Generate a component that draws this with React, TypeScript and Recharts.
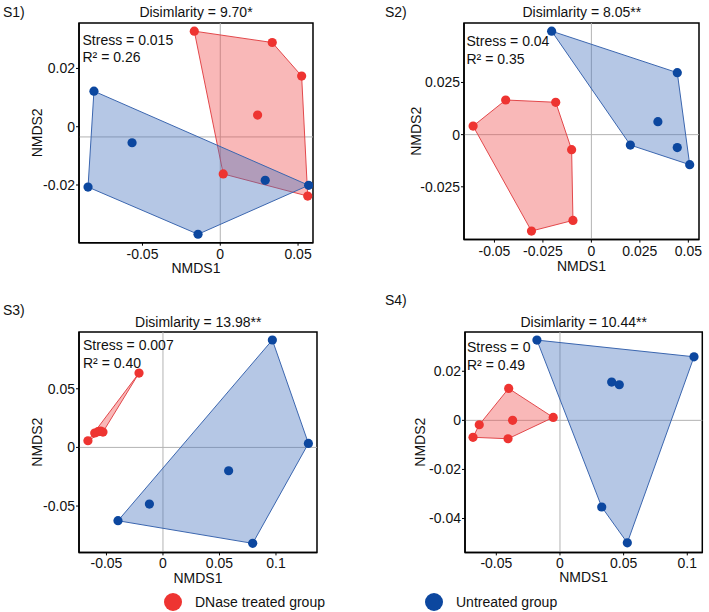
import { ScatterChart, Scatter, XAxis, YAxis, ReferenceLine, ReferenceArea, Polygon } from 'recharts';

type Pt = { x: number; y: number };

const RED = '#EE3431';
const BLUE = '#0C479F';
const RED_FILL = '#F04D4D';
const BLUE_FILL = '#4673BE';
const RED_EDGE = '#E2474A';
const BLUE_EDGE = '#3A65AF';
const FONT = '"Liberation Sans", Arial, sans-serif';

// S1 ordination scores
const s1Treated: Pt[] = [
    { x: -0.0167, y: 0.0328 },
    { x: 0.0334, y: 0.0289 },
    { x: 0.0523, y: 0.0174 },
    { x: 0.024, y: 0.004 },
    { x: 0.0019, y: -0.0162 },
    { x: 0.0562, y: -0.0238 },
];
const s1Untreated: Pt[] = [
    { x: -0.0812, y: 0.0122 },
    { x: -0.0567, y: -0.0055 },
    { x: -0.085, y: -0.0207 },
    { x: -0.0143, y: -0.0369 },
    { x: 0.0289, y: -0.0184 },
    { x: 0.0568, y: -0.0201 },
];

// S2 ordination scores
const s2Treated: Pt[] = [
    { x: -0.061, y: 0.0041 },
    { x: -0.0442, y: 0.0166 },
    { x: -0.0184, y: 0.0155 },
    { x: -0.0102, y: -0.0072 },
    { x: -0.0095, y: -0.0411 },
    { x: -0.0309, y: -0.0462 },
];
const s2Untreated: Pt[] = [
    { x: -0.0205, y: 0.0496 },
    { x: 0.0443, y: 0.0297 },
    { x: 0.0343, y: 0.0062 },
    { x: 0.0201, y: -0.005 },
    { x: 0.0443, y: -0.0062 },
    { x: 0.0507, y: -0.0144 },
];

// S3 ordination scores
const s3Treated: Pt[] = [
    { x: -0.0212, y: 0.0634 },
    { x: -0.0664, y: 0.0057 },
    { x: -0.0604, y: 0.0123 },
    { x: -0.0575, y: 0.0134 },
    { x: -0.0551, y: 0.014 },
    { x: -0.0531, y: 0.0131 },
];
const s3Untreated: Pt[] = [
    { x: 0.0968, y: 0.0916 },
    { x: 0.1287, y: 0.0034 },
    { x: 0.0794, y: -0.0818 },
    { x: -0.0398, y: -0.0625 },
    { x: -0.012, y: -0.0483 },
    { x: 0.0581, y: -0.0199 },
];

// S4 ordination scores
const s4Treated: Pt[] = [
    { x: -0.0403, y: 0.013 },
    { x: -0.0053, y: 0.0012 },
    { x: -0.0372, y: 0 },
    { x: -0.0634, y: -0.0018 },
    { x: -0.0683, y: -0.0069 },
    { x: -0.0408, y: -0.0075 },
];
const s4Untreated: Pt[] = [
    { x: -0.0181, y: 0.0327 },
    { x: 0.1053, y: 0.0259 },
    { x: 0.0406, y: 0.0156 },
    { x: 0.0466, y: 0.0145 },
    { x: 0.0328, y: -0.0353 },
    { x: 0.0529, y: -0.0499 },
];

const s1XTicks = [-0.05, 0, 0.05];
const s1YTicks = [-0.02, 0, 0.02];
const s2XTicks = [-0.05, -0.025, 0, 0.025, 0.05];
const s2YTicks = [-0.025, 0, 0.025];
const s3XTicks = [-0.05, 0, 0.05, 0.1];
const s3YTicks = [-0.05, 0, 0.05];
const s4XTicks = [-0.05, 0, 0.05, 0.1];
const s4YTicks = [-0.04, -0.02, 0, 0.02];

const titles = ['Disimlarity = 9.70*', 'Disimlarity = 8.05**', 'Disimlarity = 13.98**', 'Disimlarity = 10.44**'];
const stressLabels = ['Stress = 0.015', 'Stress = 0.04', 'Stress = 0.007', 'Stress = 0'];
const r2Labels = ['R² = 0.26', 'R² = 0.35', 'R² = 0.40', 'R² = 0.49'];
const legendNames = ['DNase treated group', 'Untreated group'];

// monotone chain convex hull
function convexHull(pts: Pt[]): Pt[] {
    const p = [...pts].sort((a, b) => a.x - b.x || a.y - b.y);
    const cross = (o: Pt, a: Pt, b: Pt) => (a.x - o.x) * (b.y - o.y) - (a.y - o.y) * (b.x - o.x);
    const lower: Pt[] = [];
    for (const q of p) {
        while (lower.length >= 2 && cross(lower[lower.length - 2], lower[lower.length - 1], q) <= 0) lower.pop();
        lower.push(q);
    }
    const upper: Pt[] = [];
    for (let i = p.length - 1; i >= 0; i--) {
        const q = p[i];
        while (upper.length >= 2 && cross(upper[upper.length - 2], upper[upper.length - 1], q) <= 0) upper.pop();
        upper.push(q);
    }
    return lower.slice(0, -1).concat(upper.slice(0, -1));
}

interface PanelProps {
    tag: string;
    tagPos: [number, number];
    title: string;
    titleY: number;
    stress: string;
    r2: string;
    textPos: [number, number, number];
    treated: Pt[];
    untreated: Pt[];
    xDomain: [number, number];
    yDomain: [number, number];
    xTicks: number[];
    yTicks: number[];
    hLine: number;
    // plot box: left, top, right, bottom
    box: [number, number, number, number];
    xLabelOffset: number;
    yLabelOffset: number;
}

const textStyle = (left: number, top: number, center = false): React.CSSProperties => ({
    position: 'absolute',
    left,
    top,
    transform: center ? 'translate(-50%, -50%)' : 'translate(0, -50%)',
    fontSize: 14,
    lineHeight: 1,
    whiteSpace: 'nowrap',
    color: '#111',
});

function Panel(p: PanelProps) {
    const [bl, bt, br, bb] = p.box;
    const hullLine = (fill: string, stroke: string) => (lp: any) => (
        <Polygon points={lp.points} fill={fill} fillOpacity={0.4} stroke={stroke} strokeWidth={1} />
    );
    const dot = (color: string) => (sp: any) => <circle cx={sp.cx} cy={sp.cy} r={4.6} fill={color} />;
    const tick = { fill: '#111', fontSize: 14 };

    return (
        <>
            <div style={textStyle(p.tagPos[0], p.tagPos[1])}>{p.tag}</div>
            <div style={textStyle((bl + br) / 2, p.titleY, true)}>{p.title}</div>
            <div style={{ position: 'absolute', left: bl - 60, top: bt - 5 }}>
                <ScatterChart
                    width={br - bl + 65}
                    height={bb - bt + 45}
                    margin={{ top: 5, right: 5, bottom: 0, left: 0 }}
                >
                    <XAxis
                        type="number"
                        dataKey="x"
                        domain={p.xDomain}
                        ticks={p.xTicks}
                        interval={0}
                        allowDataOverflow
                        height={40}
                        tickSize={3}
                        tickMargin={3}
                        tick={tick}
                        axisLine={{ stroke: '#000', strokeWidth: 1.5 }}
                        tickLine={{ stroke: '#000' }}
                        label={{ value: 'NMDS1', position: 'insideTop', offset: p.xLabelOffset, fill: '#111', fontSize: 14 }}
                    />
                    <YAxis
                        type="number"
                        dataKey="y"
                        domain={p.yDomain}
                        ticks={p.yTicks}
                        interval={0}
                        allowDataOverflow
                        width={60}
                        tickSize={3}
                        tickMargin={1}
                        tick={tick}
                        axisLine={{ stroke: '#000', strokeWidth: 1.5 }}
                        tickLine={{ stroke: '#000' }}
                        label={{
                            value: 'NMDS2',
                            angle: -90,
                            position: 'insideLeft',
                            offset: p.yLabelOffset,
                            fill: '#111',
                            fontSize: 14,
                            style: { textAnchor: 'middle' },
                        }}
                    />
                    <ReferenceLine x={0} stroke="#b3b3b3" strokeWidth={1} />
                    <ReferenceLine y={p.hLine} stroke="#b3b3b3" strokeWidth={1} />
                    <Scatter
                        data={convexHull(p.treated)}
                        line={hullLine(RED_FILL, RED_EDGE)}
                        shape={() => <g />}
                        isAnimationActive={false}
                    />
                    <Scatter
                        data={convexHull(p.untreated)}
                        line={hullLine(BLUE_FILL, BLUE_EDGE)}
                        shape={() => <g />}
                        isAnimationActive={false}
                    />
                    <Scatter data={p.treated} shape={dot(RED)} isAnimationActive={false} />
                    <Scatter data={p.untreated} shape={dot(BLUE)} isAnimationActive={false} />
                    <ReferenceArea
                        x1={p.xDomain[0]}
                        x2={p.xDomain[1]}
                        y1={p.yDomain[0]}
                        y2={p.yDomain[1]}
                        fill="none"
                        stroke="#000"
                        strokeWidth={1.5}
                        ifOverflow="visible"
                    />
                </ScatterChart>
            </div>
            <div style={textStyle(p.textPos[0], p.textPos[1])}>{p.stress}</div>
            <div style={textStyle(p.textPos[0], p.textPos[2])}>{p.r2}</div>
        </>
    );
}

export default function App() {
    return (
        <div
            style={{
                position: 'absolute',
                left: 0,
                top: 0,
                width: 709,
                height: 612,
                background: '#fff',
                fontFamily: FONT,
                overflow: 'hidden',
            }}
        >
            <Panel
                tag="S1)"
                tagPos={[3, 12]}
                title={titles[0]}
                titleY={12}
                stress={stressLabels[0]}
                r2={r2Labels[0]}
                textPos={[82.5, 39.5, 57]}
                treated={s1Treated}
                untreated={s1Untreated}
                xDomain={[-0.0908, 0.0596]}
                yDomain={[-0.0398, 0.0356]}
                xTicks={s1XTicks}
                yTicks={s1YTicks}
                hLine={-0.0035}
                box={[79, 23, 313, 242.7]}
                xLabelOffset={20.5}
                yLabelOffset={18.5}
            />
            <Panel
                tag="S2)"
                tagPos={[385, 12]}
                title={titles[1]}
                titleY={12}
                stress={stressLabels[1]}
                r2={r2Labels[1]}
                textPos={[466.5, 41, 58.5]}
                treated={s2Treated}
                untreated={s2Untreated}
                xDomain={[-0.0657, 0.0555]}
                yDomain={[-0.0503, 0.0535]}
                xTicks={s2XTicks}
                yTicks={s2YTicks}
                hLine={0}
                box={[464.3, 22.7, 699.3, 239.3]}
                xLabelOffset={21.5}
                yLabelOffset={12}
            />
            <Panel
                tag="S3)"
                tagPos={[3, 310]}
                title={titles[2]}
                titleY={322}
                stress={stressLabels[2]}
                r2={r2Labels[2]}
                textPos={[83, 345, 362.5]}
                treated={s3Treated}
                untreated={s3Untreated}
                xDomain={[-0.0743, 0.1363]}
                yDomain={[-0.0895, 0.0984]}
                xTicks={s3XTicks}
                yTicks={s3YTicks}
                hLine={0}
                box={[79.3, 332.3, 317.3, 552.7]}
                xLabelOffset={20.5}
                yLabelOffset={18}
            />
            <Panel
                tag="S4)"
                tagPos={[385, 300]}
                title={titles[3]}
                titleY={322}
                stress={stressLabels[3]}
                r2={r2Labels[3]}
                textPos={[467, 347, 364.5]}
                treated={s4Treated}
                untreated={s4Untreated}
                xDomain={[-0.0746, 0.1118]}
                yDomain={[-0.0538, 0.036]}
                xTicks={s4XTicks}
                yTicks={s4YTicks}
                hLine={0}
                box={[465, 332.3, 702.3, 552.7]}
                xLabelOffset={19.5}
                yLabelOffset={15.5}
            />
            {/* group legend */}
            <div style={{ position: 'absolute', left: 163.5, top: 592.5, width: 18, height: 18, borderRadius: 9, background: RED }} />
            <div style={textStyle(195, 601.5)}>{legendNames[0]}</div>
            <div style={{ position: 'absolute', left: 424.5, top: 592.5, width: 18, height: 18, borderRadius: 9, background: BLUE }} />
            <div style={textStyle(456, 601.5)}>{legendNames[1]}</div>
        </div>
    );
}
